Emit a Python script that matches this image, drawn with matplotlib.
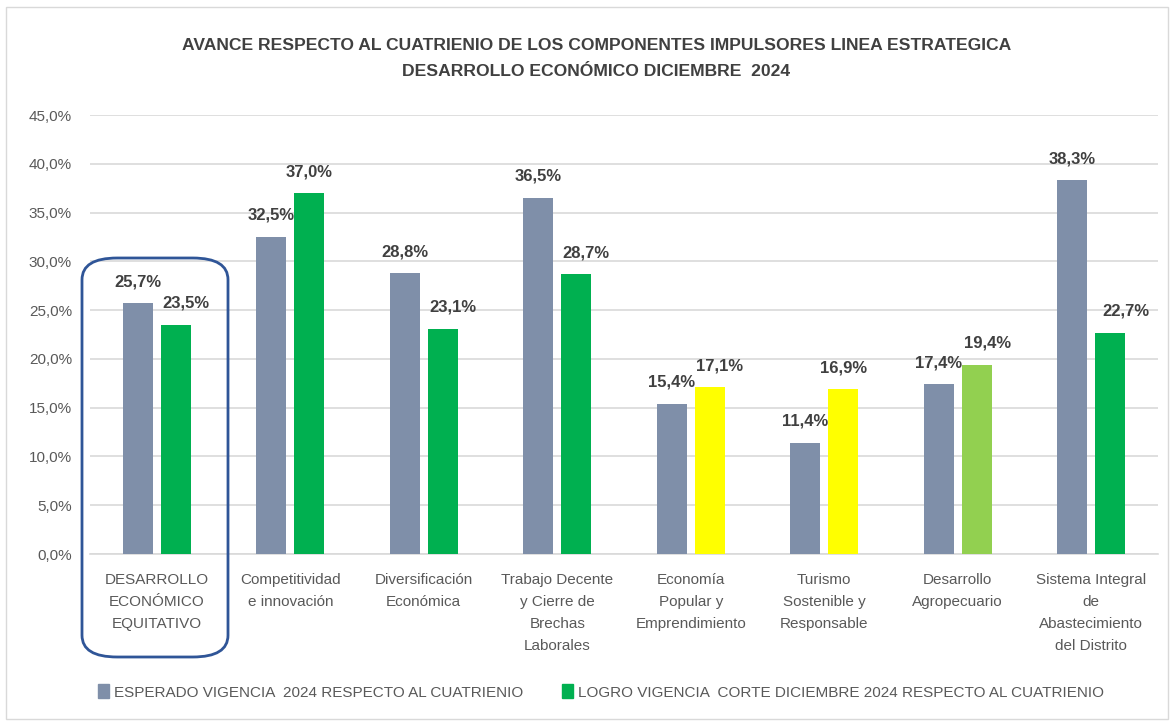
import matplotlib
matplotlib.use('Agg')
import matplotlib.pyplot as plt
from matplotlib.patches import FancyBboxPatch, Rectangle, Patch
import numpy as np

categories = ['DESARROLLO\nECONÓMICO\nEQUITATIVO', 'Competitividad\ne innovación',
              'Diversificación\nEconómica', 'Trabajo Decente\ny Cierre de\nBrechas\nLaborales',
              'Economía\nPopular y\nEmprendimiento', 'Turismo\nSostenible y\nResponsable',
              'Desarrollo\nAgropecuario', 'Sistema Integral\nde\nAbastecimiento\ndel Distrito']
esperado = [25.7, 32.5, 28.8, 36.5, 15.4, 11.4, 17.4, 38.3]
logro = [23.5, 37.0, 23.1, 28.7, 17.1, 16.9, 19.4, 22.7]
logro_colors = ['#00B050', '#00B050', '#00B050', '#00B050', '#FFFF00', '#FFFF00', '#92D050', '#00B050']
yticks = [0, 5, 10, 15, 20, 25, 30, 35, 40, 45]

# horizontal nudge of the green data labels (as Excel placed them)
logro_label_dx = [0.075, 0, 0.075, 0.075, 0.075, 0, 0.08, 0.12]

plt.rcParams['font.family'] = ['Liberation Sans', 'DejaVu Sans']

fig = plt.figure(figsize=(11.74, 7.23), dpi=100)
ax = fig.add_axes([90 / 1174, 1 - 554 / 723, 1068 / 1174, 439 / 723])

x = np.arange(len(categories))
w = 0.225
ax.bar(x - 0.142, esperado, width=w, color='#7F8FA9', zorder=3)
ax.bar(x + 0.142, logro, width=w, color=logro_colors, zorder=3)


def pct(v):
    return f'{v:.1f}%'.replace('.', ',')


for i, v in enumerate(esperado):
    ax.text(i - 0.142, v + 2.2, pct(v), ha='center', va='center',
            fontsize=12, fontweight='bold', color='#404040')
for i, v in enumerate(logro):
    ax.text(i + 0.142 + logro_label_dx[i], v + 2.2, pct(v), ha='center', va='center',
            fontsize=12, fontweight='bold', color='#404040')

ax.set_xlim(-0.5, 7.5)
ax.set_ylim(0, 45)
ax.set_yticks(yticks)
ax.set_yticklabels([pct(t) for t in yticks], fontsize=11, color='#595959')
ax.set_xticks(x)
ax.set_xticklabels(categories, fontsize=11, color='#595959', linespacing=1.7, va='top')
ax.tick_params(axis='both', length=0)
ax.tick_params(axis='y', pad=13)
ax.tick_params(axis='x', pad=14)
ax.grid(axis='y', color='#D9D9D9', linewidth=1.2, zorder=0)
for s in ['top', 'right', 'left']:
    ax.spines[s].set_visible(False)
ax.spines['bottom'].set_color('#D9D9D9')
ax.spines['bottom'].set_linewidth(1.2)

fig.text(0.508, 1 - 45 / 723, 'AVANCE RESPECTO AL CUATRIENIO DE LOS COMPONENTES IMPULSORES LINEA ESTRATEGICA',
         ha='center', va='center', fontsize=12.6, fontweight='bold', color='#404040')
fig.text(0.508, 1 - 71 / 723, 'DESARROLLO ECONÓMICO DICIEMBRE  2024',
         ha='center', va='center', fontsize=12.6, fontweight='bold', color='#404040')

# outer chart border
fig.patches.append(Rectangle((6 / 1174, 4 / 723), 1162 / 1174, 712 / 723, transform=fig.transFigure,
                             fill=False, edgecolor='#D9D9D9', linewidth=1))
# highlight box around the first category
fig.patches.append(FancyBboxPatch((82 / 1174, 1 - 657 / 723), 146 / 1174, 399 / 723,
                                  boxstyle='round,pad=0,rounding_size=0.03', transform=fig.transFigure,
                                  fill=False, edgecolor='#2F5597', linewidth=2))

handles = [Patch(color='#7F8FA9', label='ESPERADO VIGENCIA  2024 RESPECTO AL CUATRIENIO'),
           Patch(color='#00B050', label='LOGRO VIGENCIA  CORTE DICIEMBRE 2024 RESPECTO AL CUATRIENIO')]
fig.legend(handles=handles, loc='center', bbox_to_anchor=(601 / 1174, 1 - 692 / 723), ncol=2, frameon=False,
           handlelength=0.7, handleheight=1.0, handletextpad=0.3, columnspacing=2.6,
           prop={'size': 11}, labelcolor='#595959')

fig.savefig('out.png', dpi=100)
